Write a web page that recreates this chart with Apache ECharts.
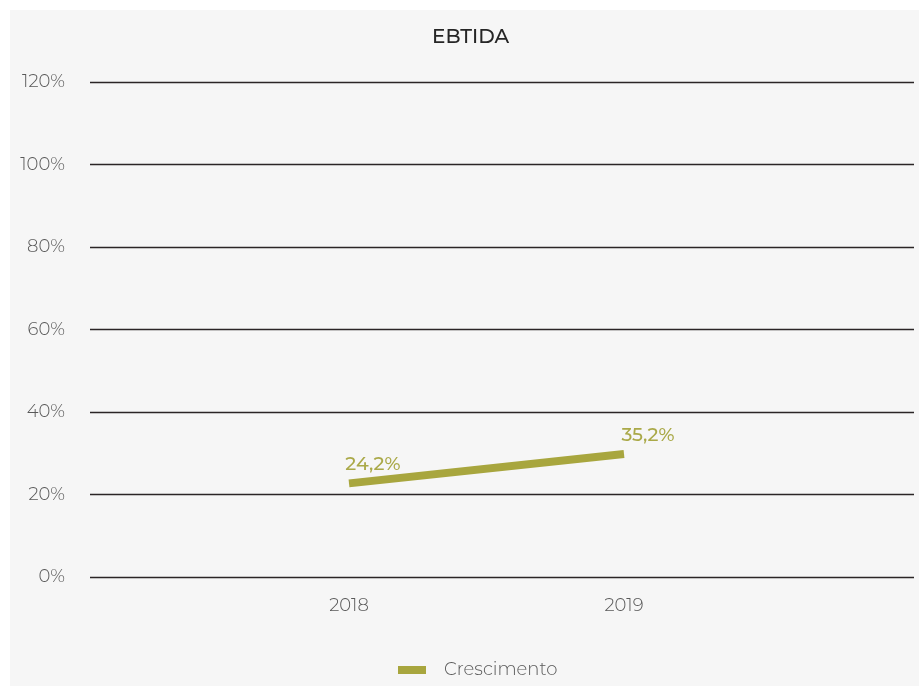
<!DOCTYPE html>
<html>
<head>
<meta charset="utf-8">
<script src="https://cdn.jsdelivr.net/npm/echarts@6/dist/echarts.min.js"></script>
<style>
html,body{margin:0;padding:0;background:#ffffff;}
#wrap{position:relative;width:919px;height:686px;background:#ffffff;}
#chart{position:absolute;left:10px;top:10px;width:909px;height:676px;}
</style>
</head>
<body>
<div id="wrap"><div id="chart"></div></div>
<script>
const categories = ['2018', '2019'];
const crescimento = [22.7, 29.8];
const labelTexts = ['24,2%', '35,2%'];
const yTicks = [0, 20, 40, 60, 80, 100, 120];

const FONT = 'Montserrat, "DejaVu Sans", sans-serif';
const chart = echarts.init(document.getElementById('chart'), null, {renderer: 'canvas'});
chart.setOption({
  backgroundColor: '#f6f6f6',
  animation: false,
  title: {
    text: 'EBTIDA',
    left: 417,
    top: 12,
    textStyle: {fontFamily: FONT, fontSize: 20, fontWeight: 500, color: '#262626'}
  },
  legend: {
    data: ['Crescimento'],
    left: 383,
    top: 646,
    itemWidth: 28,
    itemHeight: 8,
    icon: 'rect',
    textStyle: {fontFamily: FONT, fontSize: 18, fontWeight: 300, color: '#595959', padding: [0, 0, 0, 13]}
  },
  grid: [
    {left: 80, right: 5, top: 72, bottom: 109},
    {left: 201.5, right: 157.5, top: 72, bottom: 109}
  ],
  xAxis: [
    {type: 'category', gridIndex: 0, data: categories, show: false},
    {
      type: 'category', gridIndex: 1, data: categories, boundaryGap: true,
      axisLine: {show: false}, axisTick: {show: false},
      axisLabel: {margin: 20, fontFamily: FONT, fontSize: 18, fontWeight: 300, color: '#595959'}
    }
  ],
  yAxis: [
    {
      type: 'value', gridIndex: 0, min: 0, max: 120, interval: 20,
      axisLine: {show: false}, axisTick: {show: false},
      axisLabel: {margin: 25, fontFamily: FONT, fontSize: 18, fontWeight: 300, color: '#595959', formatter: v => yTicks.includes(v) ? v + '%' : ''},
      splitLine: {lineStyle: {color: '#2b2526', width: 1.3}}
    },
    {
      type: 'value', gridIndex: 1, min: 0, max: 120, interval: 20,
      show: false, splitLine: {show: false}
    }
  ],
  series: [{
    name: 'Crescimento',
    type: 'line',
    xAxisIndex: 1,
    yAxisIndex: 1,
    data: crescimento,
    showSymbol: true,
    symbol: 'circle',
    symbolSize: 0.1,
    color: '#a8a63e',
    lineStyle: {color: '#a8a63e', width: 8, cap: 'butt'},
    label: {
      show: true,
      position: 'top',
      distance: 5,
      offset: [24, -4],
      fontFamily: FONT,
      fontSize: 19,
      fontWeight: 500,
      color: '#aaa948',
      formatter: p => labelTexts[p.dataIndex]
    }
  }]
});
</script>
</body>
</html>
